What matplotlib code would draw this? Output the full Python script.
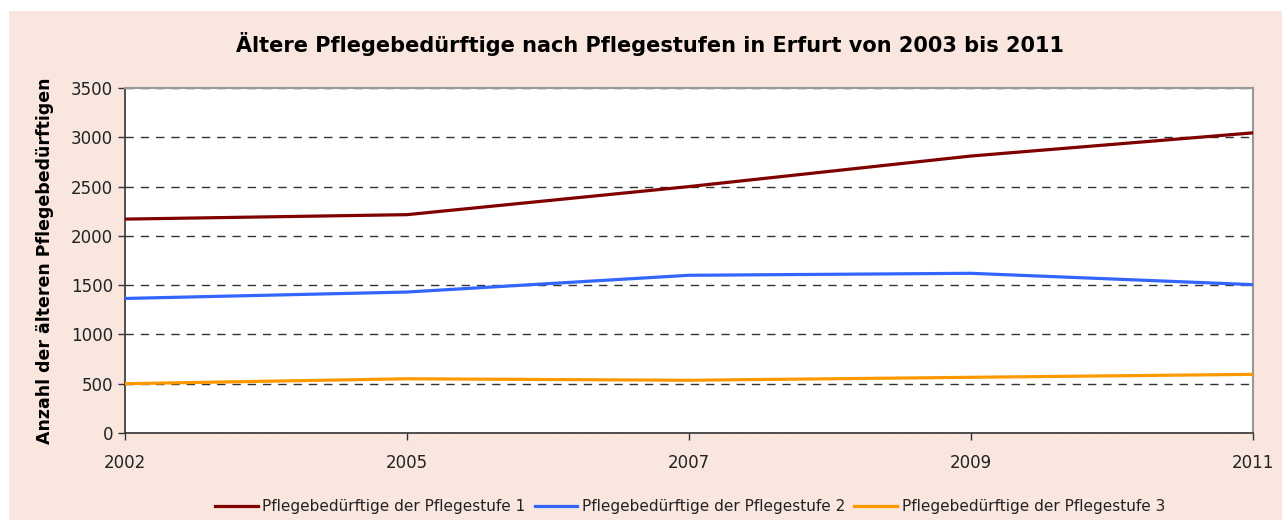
import matplotlib
matplotlib.use("Agg")
import matplotlib.pyplot as plt
from matplotlib.patches import Rectangle

years = ["2002", "2005", "2007", "2009", "2011"]
stufe1 = [2170, 2215, 2500, 2810, 3045]
stufe2 = [1365, 1430, 1600, 1620, 1505]
stufe3 = [500, 550, 535, 565, 595]
labels = ["Pflegebedürftige der Pflegestufe 1",
          "Pflegebedürftige der Pflegestufe 2",
          "Pflegebedürftige der Pflegestufe 3"]
colors = ["#800000", "#3366ff", "#ff9900"]
title = "Ältere Pflegebedürftige nach Pflegestufen in Erfurt von 2003 bis 2011"
ylabel = "Anzahl der älteren Pflegebedürftigen"

plt.rcParams['font.family'] = ['DejaVu Sans']

fig = plt.figure(figsize=(12.82, 5.2), dpi=100)
fig.patch.set_facecolor("white")
W, H = 1282, 520
bg = Rectangle((9 / W, 0), 1 - 9 / W, (H - 11) / H,
               transform=fig.transFigure, facecolor="#f8e6df",
               edgecolor="none", zorder=-10)
fig.patches.append(bg)

ax = fig.add_axes([125 / W, (H - 433) / H, (1253 - 125) / W, (433 - 88) / H])
ax.set_zorder(1)
ax.set_facecolor("white")
x = list(range(len(years)))
for vals, lab, c in zip([stufe1, stufe2, stufe3], labels, colors):
    ax.plot(x, vals, color=c, lw=2.3, label=lab, zorder=3)

ax.set_xlim(0, len(years) - 1)
ax.set_ylim(0, 3500)
ax.set_yticks(range(0, 3501, 500))
ax.set_xticks(x)
ax.set_xticklabels(years)
ax.yaxis.grid(True, linestyle=(0, (6, 5)), color="#333333", lw=1)
ax.set_axisbelow(True)
for s in ["left", "bottom"]:
    ax.spines[s].set_color("#333333")
    ax.spines[s].set_linewidth(1.2)
for s in ["top", "right"]:
    ax.spines[s].set_color("#999999")
    ax.spines[s].set_linewidth(1.5)
ax.tick_params(axis="both", direction="out", length=5, width=1, color="#333333",
               labelsize=12, labelcolor="#222222")
ax.tick_params(axis="x", pad=10)

ax.set_ylabel(ylabel, fontsize=12.5, fontweight="bold", labelpad=12)
fig.text(0.507, 1 - 44 / H, title, ha="center", va="center",
         fontsize=15, fontweight="bold")

leg = fig.legend(loc="center", bbox_to_anchor=(690 / W, 1 - 507 / H), ncol=3,
                 frameon=False, fontsize=11, handlelength=2.8,
                 handletextpad=0.3, columnspacing=0.6)
for t in leg.get_texts():
    t.set_color("#222222")

fig.savefig("out.png", dpi=100, facecolor=fig.get_facecolor())
